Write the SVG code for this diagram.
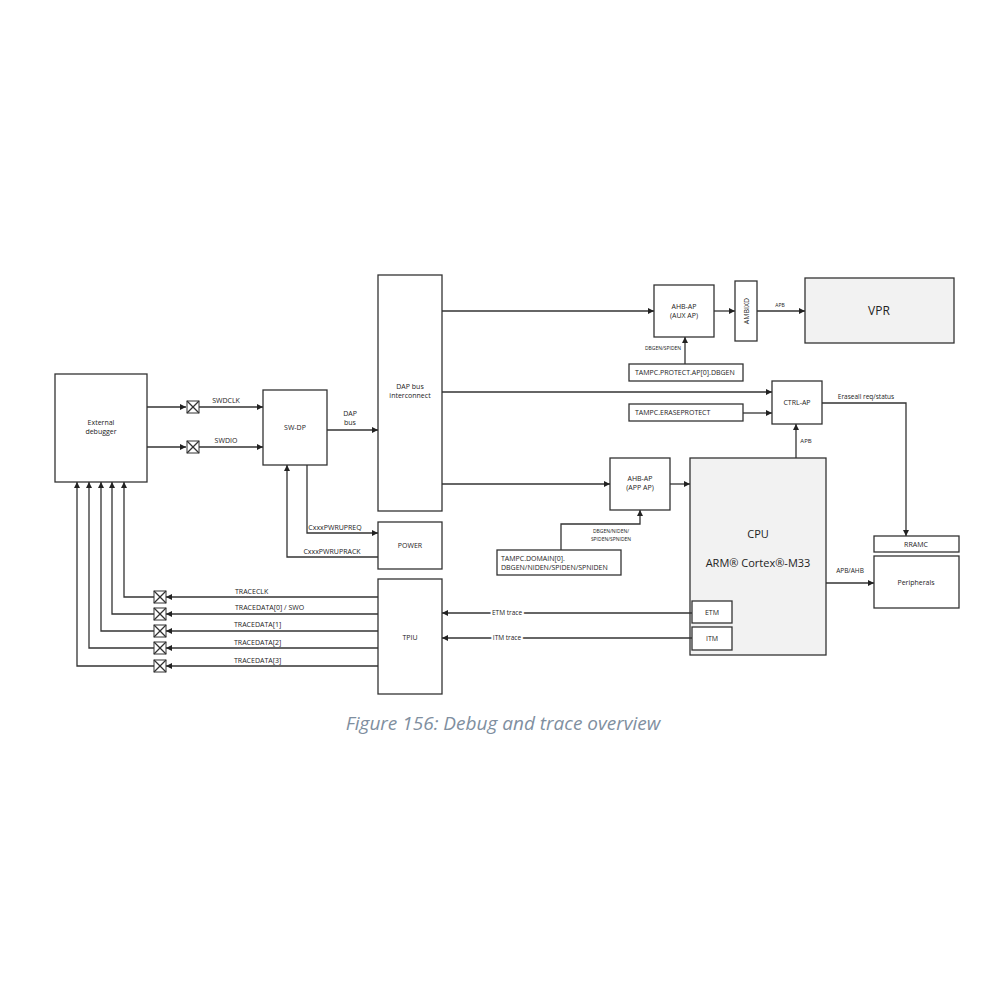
<svg xmlns="http://www.w3.org/2000/svg" width="1000" height="1000" viewBox="0 0 1000 1000">
<style>
rect{fill:#fff;stroke:#333;stroke-width:1.3}
.g{fill:#f2f2f2}
line,polyline{stroke:#333;stroke-width:1.3;fill:none}
text{font-family:"Open Sans","Liberation Sans",sans-serif;font-size:7px;fill:#222;text-anchor:middle}
.s{font-size:5px}
</style>
<defs>
<marker id="a" viewBox="0 0 10 10" refX="10" refY="5" markerWidth="6" markerHeight="6" orient="auto" markerUnits="userSpaceOnUse"><path d="M0,0L10,5L0,10z" fill="#222"/></marker>
<g id="x"><rect x="-6" y="-6" width="12" height="12" style="stroke-width:1"/><line x1="-6" y1="-6" x2="6" y2="6"/><line x1="6" y1="-6" x2="-6" y2="6"/></g>
</defs>
<rect x="0" y="0" width="1000" height="1000" style="stroke:none"/>
<g id="ext"><rect x="55" y="374" width="92" height="108"/><text x="101" y="425">External</text><text x="101" y="434">debugger</text></g>
<g id="swdp"><rect x="263" y="390" width="64" height="75"/><text x="295" y="430">SW-DP</text></g>
<g id="dap"><rect x="378" y="275" width="64" height="236"/><text x="410" y="389">DAP bus</text><text x="410" y="398">interconnect</text></g>
<g id="power"><rect x="378" y="522" width="64" height="47"/><text x="410" y="548">POWER</text></g>
<g id="tpiu"><rect x="378" y="579" width="64" height="115"/><text x="410" y="640">TPIU</text></g>
<g id="ahbaux"><rect x="654" y="285" width="60" height="52"/><text x="684" y="309">AHB-AP</text><text x="684" y="318">(AUX AP)</text></g>
<g id="ambixd"><rect x="735" y="281" width="22" height="60"/><text x="746" y="311" transform="rotate(-90 746 311)" dy="2.5">AMBIXD</text></g>
<g id="vpr"><rect class="g" x="805" y="278" width="149" height="65"/><text x="879" y="315" style="font-size:12px">VPR</text></g>
<g id="tprot"><rect x="629" y="364" width="114" height="17"/><text x="635" y="375" style="text-anchor:start">TAMPC.PROTECT.AP[0].DBGEN</text></g>
<g id="ctrlap"><rect x="772" y="381" width="50" height="43"/><text x="797" y="405">CTRL-AP</text></g>
<g id="terase"><rect x="629" y="404" width="114" height="17"/><text x="635" y="415" style="text-anchor:start">TAMPC.ERASEPROTECT</text></g>
<g id="ahbapp"><rect x="610" y="458" width="60" height="52"/><text x="640" y="481">AHB-AP</text><text x="640" y="490">(APP AP)</text></g>
<g id="tdom"><rect x="497" y="550" width="124" height="25"/><text x="501" y="561" style="text-anchor:start">TAMPC.DOMAIN[0].</text><text x="501" y="570" style="text-anchor:start">DBGEN/NIDEN/SPIDEN/SPNIDEN</text></g>
<g id="cpu"><rect class="g" x="690" y="458" width="136" height="197"/><text x="758" y="538" style="font-size:11px">CPU</text><text x="758" y="567" style="font-size:11px">ARM® Cortex®-M33</text></g>
<g id="etm"><rect x="692" y="601" width="40" height="22"/><text x="712" y="615">ETM</text></g>
<g id="itm"><rect x="692" y="627" width="40" height="23"/><text x="712" y="641">ITM</text></g>
<g id="rramc"><rect x="874" y="536" width="85" height="16"/><text x="916" y="547">RRAMC</text></g>
<g id="periph"><rect x="874" y="556" width="85" height="52"/><text x="916" y="585">Peripherals</text></g>
<g id="connectors">
<line x1="147" y1="407" x2="186" y2="407" marker-end="url(#a)"/>
<line x1="199" y1="407" x2="263" y2="407" marker-end="url(#a)"/>
<line x1="147" y1="447" x2="186" y2="447" marker-end="url(#a)"/>
<line x1="199" y1="447" x2="263" y2="447" marker-end="url(#a)"/>
<use href="#x" x="193" y="407"/><use href="#x" x="193" y="447"/>
<text x="226" y="403">SWDCLK</text><text x="226" y="443">SWDIO</text>
<line x1="327" y1="430" x2="378" y2="430" marker-end="url(#a)"/>
<text x="350" y="416">DAP</text><text x="350" y="425">bus</text>
<polyline points="307,465 307,533 378,533" marker-end="url(#a)"/>
<text x="335" y="530">CxxxPWRUPREQ</text>
<polyline points="378,557 287,557 287,465" marker-end="url(#a)"/>
<text x="332" y="554">CxxxPWRUPRACK</text>
<line x1="378" y1="597" x2="166" y2="597" marker-end="url(#a)"/>
<line x1="378" y1="614" x2="166" y2="614" marker-end="url(#a)"/>
<line x1="378" y1="631" x2="166" y2="631" marker-end="url(#a)"/>
<line x1="378" y1="648" x2="166" y2="648" marker-end="url(#a)"/>
<line x1="378" y1="666" x2="166" y2="666" marker-end="url(#a)"/>
<use href="#x" x="160" y="597"/><use href="#x" x="160" y="614"/><use href="#x" x="160" y="631"/><use href="#x" x="160" y="648"/><use href="#x" x="160" y="666"/>
<text x="235" y="594" style="text-anchor:start">TRACECLK</text><text x="235" y="610" style="text-anchor:start">TRACEDATA[0] / SWO</text><text x="234" y="627" style="text-anchor:start">TRACEDATA[1]</text><text x="234" y="645" style="text-anchor:start">TRACEDATA[2]</text><text x="234" y="663" style="text-anchor:start">TRACEDATA[3]</text>
<polyline points="154,597 124,597 124,482" marker-end="url(#a)"/>
<polyline points="154,614 112,614 112,482" marker-end="url(#a)"/>
<polyline points="154,631 101,631 101,482" marker-end="url(#a)"/>
<polyline points="154,648 89,648 89,482" marker-end="url(#a)"/>
<polyline points="154,666 77,666 77,482" marker-end="url(#a)"/>
<line x1="442" y1="311" x2="654" y2="311" marker-end="url(#a)"/>
<line x1="714" y1="311" x2="735" y2="311" marker-end="url(#a)"/>
<line x1="757" y1="311" x2="805" y2="311" marker-end="url(#a)"/>
<text x="780" y="307" class="s">APB</text>
<line x1="685" y1="364" x2="685" y2="337" marker-end="url(#a)"/>
<text x="663" y="350" class="s">DBGEN/SPIDEN</text>
<line x1="442" y1="392" x2="772" y2="392" marker-end="url(#a)"/>
<line x1="743" y1="413" x2="772" y2="413" marker-end="url(#a)"/>
<polyline points="822,403 906,403 906,536" marker-end="url(#a)"/>
<text x="866" y="399" style="font-size:6.5px">Eraseall req/status</text>
<line x1="796" y1="458" x2="796" y2="424" marker-end="url(#a)"/>
<text x="806" y="443" style="font-size:6px">APB</text>
<line x1="442" y1="484" x2="610" y2="484" marker-end="url(#a)"/>
<line x1="670" y1="484" x2="690" y2="484" marker-end="url(#a)"/>
<polyline points="561,550 561,524 640,524 640,510" marker-end="url(#a)"/>
<text x="611" y="533" class="s">DBGEN/NIDEN/</text><text x="611" y="541" class="s">SPIDEN/SPNIDEN</text>
<line x1="826" y1="583" x2="874" y2="583" marker-end="url(#a)"/>
<text x="850" y="573" style="font-size:6.5px">APB/AHB</text>
<line x1="692" y1="613" x2="442" y2="613" marker-end="url(#a)"/>
<line x1="692" y1="638" x2="442" y2="638" marker-end="url(#a)"/>
<text x="507" y="615" style="font-size:6.5px" stroke="#fff" stroke-width="4" paint-order="stroke">ETM trace</text>
<text x="507" y="640" style="font-size:6.5px" stroke="#fff" stroke-width="4" paint-order="stroke">ITM trace</text>
</g>
<text x="503" y="730" style="font-size:19px;font-style:italic;fill:#7f8fa0">Figure 156: Debug and trace overview</text>
</svg>
